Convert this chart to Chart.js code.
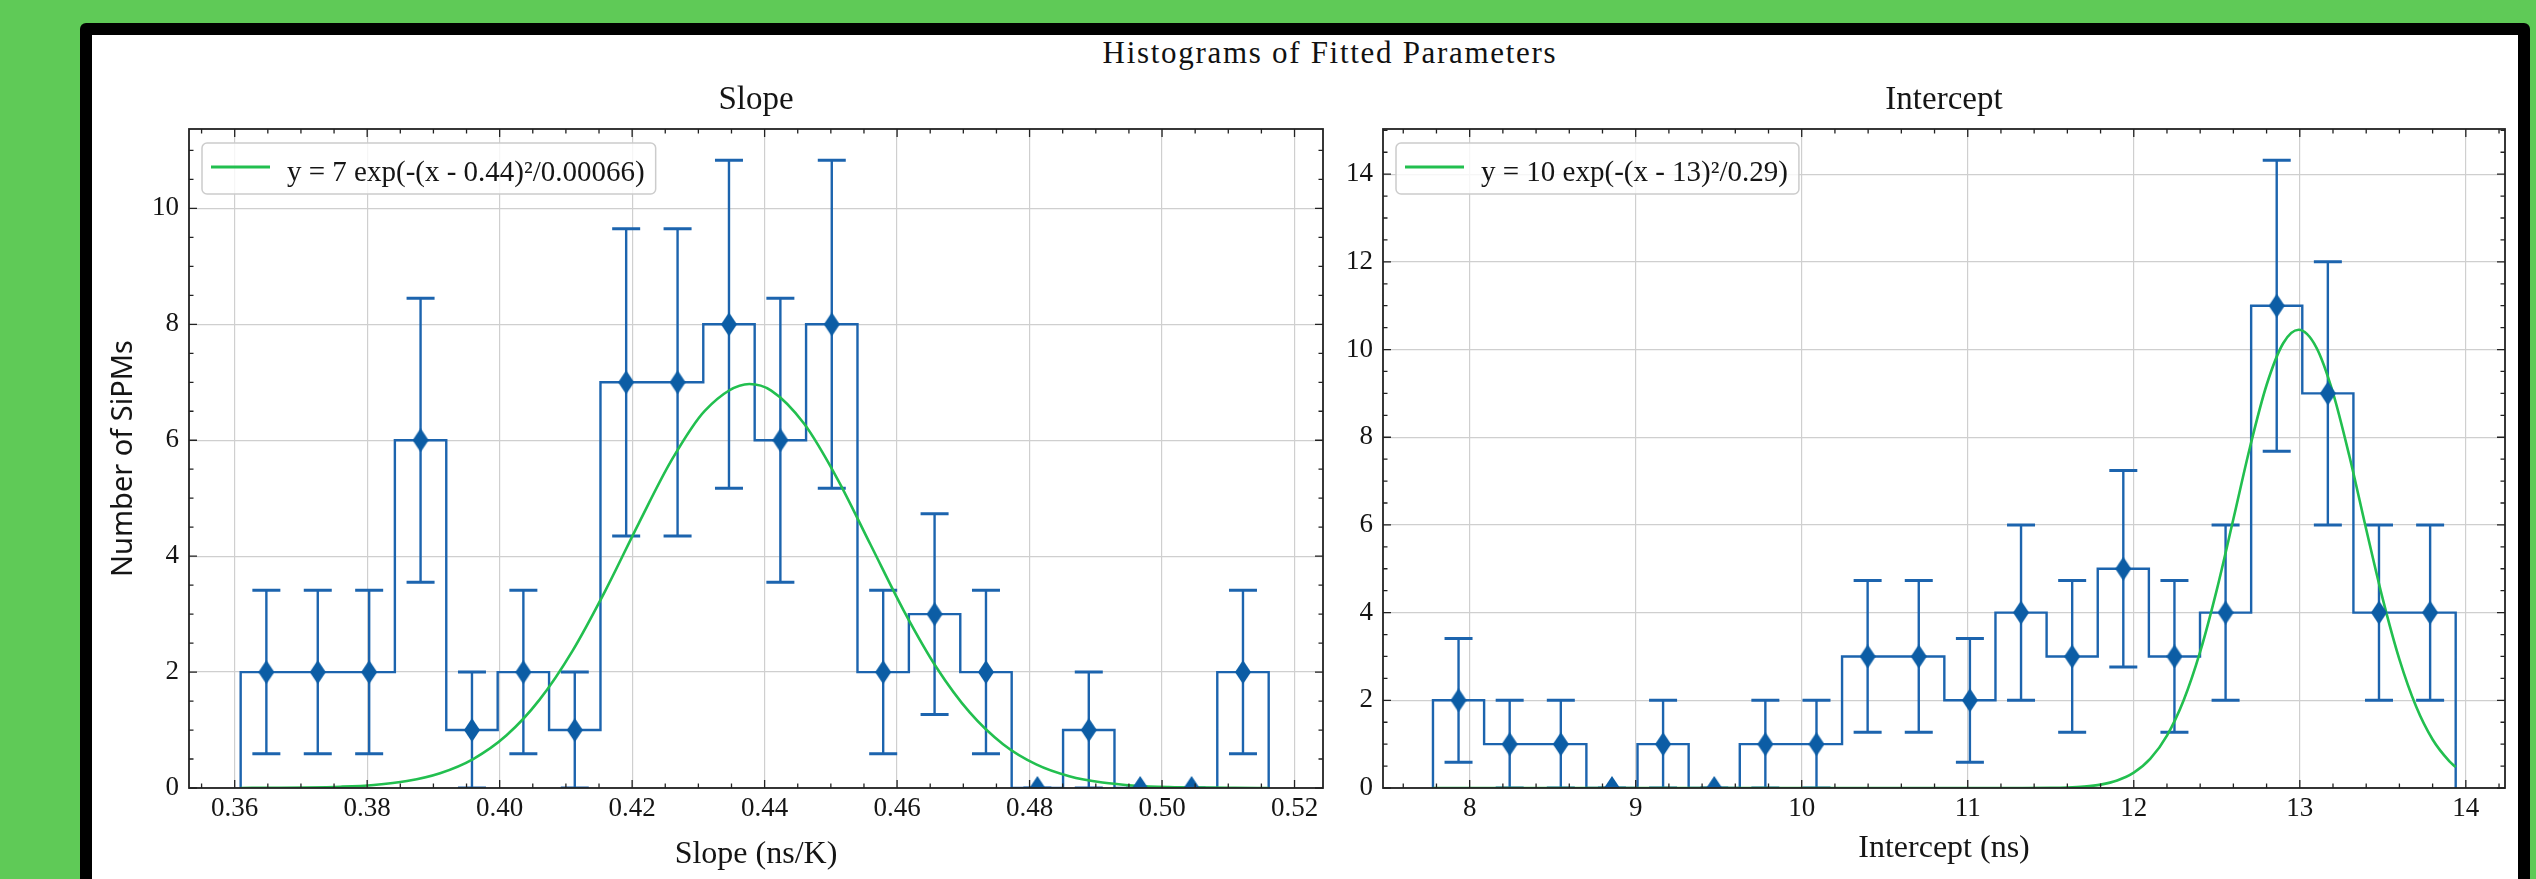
<!DOCTYPE html>
<html>
<head>
<meta charset="utf-8">
<script src="https://cdn.jsdelivr.net/npm/chart.js@4.4.1/dist/chart.umd.min.js"></script>
<style>
  html, body { margin: 0; padding: 0; }
  body { width: 2536px; height: 879px; background: #5fca57; position: relative; overflow: hidden; }
  #frame { position: absolute; left: 80px; top: 23px; width: 2450px; height: 900px; background: #000; border-radius: 6px 6px 0 0; }
  #paper { position: absolute; left: 92px; top: 35px; width: 2426px; height: 900px; background: #fff; }
  #suptitle { position: absolute; left: 1030px; top: 37px; width: 600px; text-align: center;
    font-family: "Liberation Serif"; font-size: 31px; line-height: 31px; letter-spacing: 1.7px; color: #111; white-space: nowrap; }
  canvas { position: absolute; top: 35px; }
  #slopeChart { left: 92px; }
  #interceptChart { left: 1340px; }
</style>
</head>
<body>
<div id="frame"></div>
<div id="paper"></div>
<div id="suptitle">Histograms of Fitted Parameters</div>
<canvas id="slopeChart" width="1248" height="844"></canvas>
<canvas id="interceptChart" width="1178" height="844"></canvas>
<script>
// slope histogram
const slopeEdges = [0.3609, 0.36866, 0.37642, 0.38418, 0.39194, 0.3997, 0.40746, 0.41522, 0.42298, 0.43074,
  0.4385, 0.44626, 0.45402, 0.46178, 0.46954, 0.4773, 0.48506, 0.49282, 0.50058, 0.50834, 0.5161];
const slopeCounts = [2, 2, 2, 6, 1, 2, 1, 7, 7, 8, 6, 8, 2, 3, 2, 0, 1, 0, 0, 2];
const slopeErrors = [1.41, 1.41, 1.41, 2.45, 1, 1.41, 1, 2.65, 2.65, 2.83, 2.45, 2.83, 1.41, 1.73, 1.41, 0, 1, 0, 0, 1.41];
const slopeFitX = [0.3609, 0.366, 0.371, 0.376, 0.381, 0.386, 0.391, 0.396, 0.401, 0.406, 0.411, 0.416, 0.421, 0.426,
  0.431, 0.4377, 0.441, 0.446, 0.451, 0.456, 0.461, 0.466, 0.471, 0.476, 0.481, 0.486, 0.491, 0.496, 0.501, 0.506, 0.511, 0.5161];
const slopeFitY = [0.001, 0.003, 0.008, 0.022, 0.053, 0.121, 0.256, 0.5, 0.905, 1.52, 2.367, 3.415, 4.567, 5.665,
  6.512, 6.97, 6.856, 6.279, 5.331, 4.197, 3.062, 2.071, 1.299, 0.755, 0.407, 0.203, 0.094, 0.04, 0.016, 0.006, 0.002, 0.001];
const slopeXTicks = [0.36, 0.38, 0.40, 0.42, 0.44, 0.46, 0.48, 0.50, 0.52];
const slopeYTicks = [0, 2, 4, 6, 8, 10];
const slopeFitLabel = "y = 7 exp(-(x - 0.44)²/0.00066)";

// intercept histogram
const interceptEdges = [7.779, 8.087, 8.395, 8.703, 9.011, 9.319, 9.627, 9.935, 10.243, 10.551, 10.859,
  11.167, 11.475, 11.783, 12.091, 12.399, 12.707, 13.015, 13.323, 13.631, 13.939];
const interceptCounts = [2, 1, 1, 0, 1, 0, 1, 1, 3, 3, 2, 4, 3, 5, 3, 4, 11, 9, 4, 4];
const interceptErrors = [1.41, 1, 1, 0, 1, 0, 1, 1, 1.73, 1.73, 1.41, 2, 1.73, 2.24, 1.73, 2, 3.32, 3, 2, 2];
const interceptFitX = [7.779, 8.5, 9.5, 10.5, 11.0, 11.3, 11.5, 11.6, 11.7, 11.8, 11.9, 12.0, 12.1, 12.2, 12.3, 12.4,
  12.5, 12.6, 12.7, 12.8, 12.9, 12.993, 13.1, 13.2, 13.3, 13.4, 13.5, 13.6, 13.7, 13.8, 13.9, 13.939];
const interceptFitY = [0, 0, 0, 0, 0, 0.001, 0.005, 0.013, 0.033, 0.077, 0.17, 0.349, 0.668, 1.195, 1.995, 3.108,
  4.52, 6.135, 7.773, 9.191, 10.143, 10.45, 10.046, 9.014, 7.55, 5.902, 4.307, 2.933, 1.864, 1.106, 0.613, 0.478];
const interceptXTicks = [8, 9, 10, 11, 12, 13, 14];
const interceptYTicks = [0, 2, 4, 6, 8, 10, 12, 14];
const interceptFitLabel = "y = 10 exp(-(x - 13)²/0.29)";

const lineBlue = "#1c64ae";
const markerBlue = "#0c5da5";
const fitGreen = "#22bf4f";
const gridColor = "#cfcfcf";
const textColor = "#151515";
const serif = "Liberation Serif";

Chart.defaults.font.family = serif;
Chart.defaults.color = textColor;

// thin diamond marker
const diamond = document.createElement("canvas");
diamond.width = 16;
diamond.height = 24;
const dctx = diamond.getContext("2d");
dctx.fillStyle = markerBlue;
dctx.beginPath();
dctx.moveTo(8, 0); dctx.lineTo(16, 12); dctx.lineTo(8, 24); dctx.lineTo(0, 12);
dctx.closePath();
dctx.fill();

function histChart(canvasId, o) {
  const centers = o.counts.map((n, i) => (o.edges[i] + o.edges[i + 1]) / 2);
  const steps = [{ x: o.edges[0], y: 0 }];
  o.counts.forEach((n, i) => {
    steps.push({ x: o.edges[i], y: n }, { x: o.edges[i + 1], y: n });
  });
  steps.push({ x: o.edges[o.edges.length - 1], y: 0 });

  const errorBars = {
    id: "errorBars",
    afterDatasetDraw(chart, args) {
      if (args.index !== 0) return;
      const { ctx, chartArea: a, scales: { x, y } } = chart;
      ctx.save();
      ctx.beginPath();
      ctx.rect(a.left, a.top, a.right - a.left, a.bottom - a.top);
      ctx.clip();
      ctx.strokeStyle = lineBlue;
      o.counts.forEach((n, i) => {
        const px = x.getPixelForValue(centers[i]);
        const lo = y.getPixelForValue(n - o.errors[i]);
        const hi = y.getPixelForValue(n + o.errors[i]);
        ctx.lineWidth = 2.4;
        ctx.beginPath();
        ctx.moveTo(px, lo); ctx.lineTo(px, hi);
        ctx.stroke();
        ctx.lineWidth = 3;
        ctx.beginPath();
        ctx.moveTo(px - 14, lo); ctx.lineTo(px + 14, lo);
        ctx.moveTo(px - 14, hi); ctx.lineTo(px + 14, hi);
        ctx.stroke();
      });
      ctx.restore();
    }
  };

  const frameAndLegend = {
    id: "frameAndLegend",
    afterDatasetsDraw(chart) {
      const { ctx, chartArea: a, scales: { x, y } } = chart;
      ctx.save();
      // inward ticks on all four sides
      ctx.strokeStyle = "#222";
      ctx.lineWidth = 1.3;
      const minors = (s, step) => {
        const out = [];
        for (let k = Math.ceil(s.min / step - 1e-9); k * step <= s.max + 1e-9; k++) out.push(k * step);
        return out;
      };
      const tickSet = (s, step) => [
        ...minors(s, step).map(v => [v, 4.5]),
        ...s.ticks.map(t => [t.value, 8])
      ];
      ctx.beginPath();
      tickSet(x, o.minorX).forEach(([v, len]) => {
        const px = x.getPixelForValue(v);
        ctx.moveTo(px, a.bottom); ctx.lineTo(px, a.bottom - len);
        ctx.moveTo(px, a.top); ctx.lineTo(px, a.top + len);
      });
      tickSet(y, o.minorY).forEach(([v, len]) => {
        const py = y.getPixelForValue(v);
        ctx.moveTo(a.left, py); ctx.lineTo(a.left + len, py);
        ctx.moveTo(a.right, py); ctx.lineTo(a.right - len, py);
      });
      ctx.stroke();
      // spines
      ctx.lineWidth = 1.8;
      ctx.strokeRect(a.left, a.top, a.right - a.left, a.bottom - a.top);

      // legend box
      const fit = chart.data.datasets[1];
      ctx.font = "29px \"" + serif + "\"";
      const tw = ctx.measureText(fit.label).width;
      const lx = a.left + 13, ly = a.top + 14, lw = 96 + tw, lh = 51;
      ctx.fillStyle = "rgba(255,255,255,0.8)";
      ctx.strokeStyle = "#cccccc";
      ctx.lineWidth = 1.5;
      ctx.beginPath();
      ctx.roundRect(lx, ly, lw, lh, 5);
      ctx.fill();
      ctx.stroke();
      ctx.strokeStyle = fit.borderColor;
      ctx.lineWidth = 3;
      ctx.beginPath();
      ctx.moveTo(lx + 9, ly + 24); ctx.lineTo(lx + 68, ly + 24);
      ctx.stroke();
      ctx.fillStyle = textColor;
      ctx.textAlign = "left";
      ctx.textBaseline = "alphabetic";
      ctx.fillText(fit.label, lx + 85, ly + 38);
      ctx.restore();
    }
  };

  return new Chart(document.getElementById(canvasId), {
    type: "line",
    data: {
      datasets: [
        {
          label: "counts",
          data: steps,
          borderColor: lineBlue,
          borderWidth: 2.4,
          pointRadius: 0,
          fill: false,
          order: 3
        },
        {
          label: o.fitLabel,
          data: o.fitX.map((v, i) => ({ x: v, y: o.fitY[i] })),
          borderColor: fitGreen,
          borderWidth: 2.6,
          pointRadius: 0,
          fill: false,
          cubicInterpolationMode: "monotone",
          order: 2
        },
        {
          label: "bins",
          data: centers.map((c, i) => ({ x: c, y: o.counts[i] })),
          showLine: false,
          pointStyle: diamond,
          pointRadius: 12,
          clip: 0,
          order: 1
        }
      ]
    },
    options: {
      responsive: false,
      animation: false,
      events: [],
      layout: { padding: { left: 0, top: 0, right: o.padRight, bottom: 0 } },
      plugins: {
        legend: { display: false },
        tooltip: { enabled: false },
        title: {
          display: true,
          text: o.title,
          fullSize: false,
          color: textColor,
          font: { family: serif, size: 33, weight: "normal" },
          padding: { top: 45.8, bottom: 8.6 }
        }
      },
      scales: {
        x: {
          type: "linear",
          min: o.xMin,
          max: o.xMax,
          afterBuildTicks: s => { s.ticks = o.xTicks.map(v => ({ value: v })); },
          afterFit: s => { s.height = 91; },
          grid: { color: gridColor, lineWidth: 1.2, drawTicks: false },
          border: { display: false },
          ticks: {
            padding: 5,
            autoSkip: false,
            maxRotation: 0,
            font: { family: serif, size: 27 },
            callback: o.xFormat
          },
          title: {
            display: true,
            text: o.xTitle,
            color: textColor,
            font: { family: serif, size: 32 },
            padding: { top: 0, bottom: o.xTitlePad }
          }
        },
        y: {
          type: "linear",
          min: 0,
          max: o.yMax,
          afterBuildTicks: s => { s.ticks = o.yTicks.map(v => ({ value: v })); },
          afterFit: s => { s.width = o.yWidth; },
          grid: { color: gridColor, lineWidth: 1.2, drawTicks: false },
          border: { display: false },
          ticks: {
            padding: 10,
            font: { family: serif, size: 27 },
            callback: v => String(v)
          },
          title: {
            display: !!o.yTitle,
            text: o.yTitle || "",
            color: textColor,
            font: { family: "Noto Sans", size: 29 },
            padding: { top: 14, bottom: 0 }
          }
        }
      }
    },
    plugins: [errorBars, frameAndLegend]
  });
}

histChart("slopeChart", {
  edges: slopeEdges, counts: slopeCounts, errors: slopeErrors,
  fitX: slopeFitX, fitY: slopeFitY, fitLabel: slopeFitLabel,
  xTicks: slopeXTicks, yTicks: slopeYTicks,
  xMin: 0.3531, xMax: 0.5243, yMax: 11.37,
  minorX: 0.005, minorY: 0.5,
  xFormat: v => v.toFixed(2),
  title: "Slope", xTitle: "Slope (ns/K)", yTitle: "Number of SiPMs",
  padRight: 17, yWidth: 97, xTitlePad: 5
});

histChart("interceptChart", {
  edges: interceptEdges, counts: interceptCounts, errors: interceptErrors,
  fitX: interceptFitX, fitY: interceptFitY, fitLabel: interceptFitLabel,
  xTicks: interceptXTicks, yTicks: interceptYTicks,
  xMin: 7.478, xMax: 14.236, yMax: 15.03,
  minorX: 0.2, minorY: 0.5,
  xFormat: v => String(v),
  title: "Intercept", xTitle: "Intercept (ns)", yTitle: null,
  padRight: 2, yWidth: 43, xTitlePad: 11
});
</script>
</body>
</html>
